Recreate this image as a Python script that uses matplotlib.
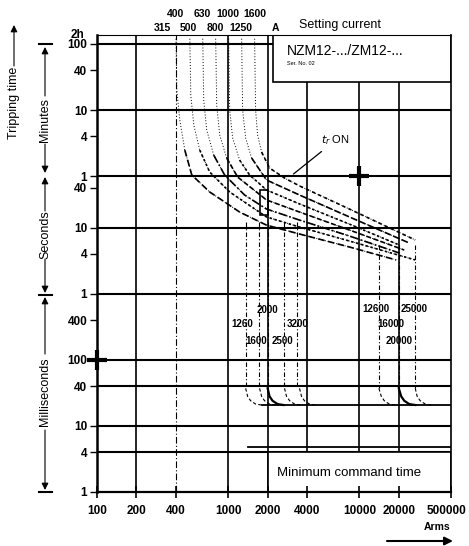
import matplotlib
matplotlib.use("Agg")
import matplotlib.pyplot as plt
from matplotlib.patches import Rectangle
from matplotlib.transforms import ScaledTranslation

# ---- axis values -------------------------------------------------------
x_ticks = [100, 200, 400, 1000, 2000, 4000, 10000, 20000, 50000]
x_tick_labels = ["100", "200", "400", "1000", "2000", "4000", "10000", "20000", "500000"]
y_ticks = [0.001, 0.004, 0.01, 0.04, 0.1, 0.4, 1, 4, 10, 40, 60, 240, 600, 2400, 6000]
y_tick_labels = ["1", "4", "10", "40", "100", "400", "1", "4", "10", "40",
                 "1", "4", "10", "40", "100"]
y_top = 8200          # top edge of the chart, labelled "2h"

grid_h = [6000, 600, 60, 10, 1, 0.1, 0.04, 0.01, 0.004]
grid_v = [200, 1000, 2000, 4000, 10000, 20000]
grid_v_dashdot = [400]

# setting current scale (top)
setting_row1 = [400, 630, 1000, 1600]
setting_row2 = [315, 500, 800, 1250]
setting_unit_current = 2300

# ---- long time delay curves (A, s) -------------------------------------
lt_currents = [
    [400, 406, 428, 467, 528, 723, 1223, 1960, 3500, 8400, 19100],
    [510, 519, 547, 607, 723, 1027, 1960, 3500, 8400, 26700],
    [640, 651, 686, 776, 940, 1335, 1960, 3500, 8400, 20150],
    [803, 818, 862, 974, 1181, 1960, 3500, 8400, 22000],
    [1009, 1027, 1082, 1223, 1457, 1960, 3500, 8400, 20150],
    [1267, 1289, 1359, 1509, 1960, 3500, 8400, 24000],
    [1591, 1619, 1676, 1798, 2068, 2690, 3500, 8400, 26700],
]
lt_times = [
    [7200, 1200, 424, 149, 62.5, 34.6, 17.2, 10.9, 8.0, 5.09, 3.24],
    [7200, 1000, 357, 149, 69.3, 34.6, 14.5, 10.2, 6.27, 3.24],
    [7200, 851, 300, 125, 62.5, 31.1, 19.1, 13.0, 7.46, 4.13],
    [7200, 716, 252, 113, 58.2, 26.2, 17.2, 9.20, 4.58],
    [7200, 601, 227, 105, 62.5, 37.1, 22.8, 11.3, 5.46],
    [7200, 601, 227, 113, 52.5, 31.1, 14.5, 5.85],
    [7200, 601, 252, 139, 79.7, 56.2, 42.7, 19.1, 6.49],
]
lt_dashes = [(0, (4, 2)), (0, (1.5, 1.5)), (0, (5, 1.5, 1, 1.5)), (0, (3, 1.5)),
             (0, (1.5, 1.5)), (0, (4, 1.5)), (0, (2, 2))]

# ---- short time delay pickups ------------------------------------------
st_pickups = [1360, 1730, 2000, 2680, 3350, 14100, 20000, 26700]
st_start_times = [12, 12, 12, 12, 12, 5.5, 5.5, 5.5]
st_bold = [False, False, True, False, False, False, True, False]
knee_times = [0.037, 0.028, 0.024, 0.0214, 0.0207]
knee_currents = [
    [1360, 1407, 1483, 1619, 1798],
    [1736, 1798, 1895, 2068, 2297],
    [2000, 2068, 2180, 2379, 2643],
    [2690, 2786, 2944, 3205, 3560],
    [3500, 3622, 3817, 4168, 4630],
    [14100, 14700, 15500, 16900, 18800],
    [20000, 20860, 22000, 24000, 26700],
    [26700, 27600, 29100, 31800, 35300],
]
sd_floor_time = 0.0207
sd_floor_currents = [1798, 50000]

st_label_texts = ["2000", "1260", "3200", "1600", "2500", "12600", "25000", "16000", "20000"]
st_label_currents = [1990, 1289, 3377, 1647, 2597, 13470, 26200, 17510, 20150]
st_label_times = [0.567, 0.348, 0.348, 0.192, 0.192, 0.587, 0.587, 0.348, 0.192]

# misc
rect_currents = [1740, 2000]
rect_times = [15.5, 37]
cmd_line_currents = [1407, 50000]
cmd_line_time = 0.0048
cross_currents = [10000, 100]
cross_times = [60, 0.1]
nzm_box_currents = [2180, 50000]
nzm_box_times = [1600, y_top]
cmd_box_currents = [2000, 50000]
cmd_box_times = [0.001, 0.004]

plt.rcParams["font.family"] = ["Liberation Sans", "DejaVu Sans"]
NARROW = ["Liberation Sans Narrow", "Liberation Sans", "DejaVu Sans"]

fig = plt.figure(figsize=(4.69, 5.46), dpi=100)
ax = fig.add_axes([97 / 469, 54 / 546, 354 / 469, 457 / 546])
ax.set_xscale("log")
ax.set_yscale("log")
ax.set_xlim(100, 50000)
ax.set_ylim(0.001, y_top)

ax.set_xticks(x_ticks, x_tick_labels, fontsize=8.5, fontweight="bold", family=NARROW)
ax.set_yticks(y_ticks, y_tick_labels, fontsize=8.5, fontweight="bold", family=NARROW)
ax.minorticks_off()
ax.tick_params(axis="x", direction="inout", length=9, width=1.2, pad=5)
ax.tick_params(axis="y", direction="out", length=5, width=1.0, pad=2)
ax.xaxis.set_zorder(6)
last = ax.get_xticklabels()[-1]
last.set_transform(last.get_transform() + ScaledTranslation(-3 / 72, 0, fig.dpi_scale_trans))
ax.text(-0.035, 1.0, "2h", transform=ax.transAxes, fontsize=8.5, fontweight="bold",
        family=NARROW, ha="right", va="center")

for side, lw in [("left", 1.8), ("bottom", 1.6), ("right", 1.2), ("top", 0.8)]:
    ax.spines[side].set_linewidth(lw)
    ax.spines[side].set_zorder(6)

# grid
for t in grid_h:
    ax.axhline(t, color="black", lw=1.5, zorder=1)
for c in grid_v:
    ax.axvline(c, color="black", lw=1.2, zorder=1)
for c in grid_v_dashdot:
    ax.axvline(c, color="black", lw=0.8, ls=(0, (6, 2, 1, 2)), zorder=1)

# long time curves: faint dotted near the asymptote, heavier further down
for cur, tim, ls in zip(lt_currents, lt_times, lt_dashes):
    ax.plot(cur, tim, color="black", lw=0.7, ls=(0, (1, 2)), zorder=3)
    ax.plot(cur[3:], tim[3:], color="black", lw=1.2, ls=ls, zorder=3)

ax.add_patch(Rectangle((rect_currents[0], rect_times[0]),
                       rect_currents[1] - rect_currents[0],
                       rect_times[1] - rect_times[0],
                       fill=False, edgecolor="black", lw=1.2, zorder=3))

# short time pickups + knees
for p, t0, bold, kc in zip(st_pickups, st_start_times, st_bold, knee_currents):
    ax.plot([p, p], [t0, knee_times[0]], color="black", lw=0.8,
            ls=(0, (4, 2, 1, 2)), zorder=3)
    if bold:
        ax.plot(kc, knee_times, color="black", lw=1.6, zorder=3)
    else:
        ax.plot(kc, knee_times, color="black", lw=0.8, ls=(0, (3, 2)), zorder=3)
ax.plot(sd_floor_currents, [sd_floor_time] * 2, color="black", lw=1.3, zorder=3)

for txt, c, t in zip(st_label_texts, st_label_currents, st_label_times):
    ax.text(c, t, txt, fontsize=7, fontweight="bold", family=NARROW,
            ha="center", va="center", zorder=5)

ax.plot(cmd_line_currents, [cmd_line_time] * 2, color="black", lw=1.3, zorder=3)

ax.plot(cross_currents, cross_times, ls="none", marker="+", ms=14, mew=3,
        color="black", zorder=7, clip_on=False)

# boxes
ax.add_patch(Rectangle((nzm_box_currents[0], nzm_box_times[0]),
                       nzm_box_currents[1] - nzm_box_currents[0],
                       nzm_box_times[1] - nzm_box_times[0],
                       facecolor="white", edgecolor="black", lw=1.2, zorder=4))
ax.text(2786, 4700, "NZM12-.../ZM12-...", fontsize=10, va="center", zorder=5)
ax.text(2786, 2990, "Ser. No. 02", fontsize=4, va="center", zorder=5)

ax.add_patch(Rectangle((cmd_box_currents[0], cmd_box_times[0]),
                       cmd_box_currents[1] - cmd_box_currents[0],
                       cmd_box_times[1] - cmd_box_times[0],
                       facecolor="white", edgecolor="black", lw=1.2, zorder=4))
ax.text(8400, 0.00194, "Minimum command time", fontsize=9.5,
        ha="center", va="center", zorder=5)

ax.annotate(r"$t_r$ ON", xy=(3148, 64.7), xytext=(5140, 211), fontsize=8,
            ha="left", va="center", zorder=5,
            arrowprops=dict(arrowstyle="-", color="black", lw=0.9,
                            shrinkA=2, shrinkB=0))

# setting current scale on top
trans = ax.get_xaxis_transform()
for c in setting_row1:
    ax.text(c, 1.047, str(c), transform=trans, fontsize=7.5, fontweight="bold",
            family=NARROW, ha="center", va="center")
for c in setting_row2:
    ax.text(c, 1.016, str(c), transform=trans, fontsize=7.5, fontweight="bold",
            family=NARROW, ha="center", va="center")
ax.text(setting_unit_current, 1.016, "A", transform=trans, fontsize=7.5,
        fontweight="bold", family=NARROW, ha="center", va="center")
ax.text(0.57, 1.022, "Setting current", transform=ax.transAxes, fontsize=9,
        ha="left", va="center")

# left-hand labels, in figure pixels
ov = fig.add_axes([0, 0, 1, 1])
ov.set_xlim(0, 469)
ov.set_ylim(546, 0)
ov.axis("off")

arrow = dict(arrowstyle="-|>", color="black", lw=0.8, mutation_scale=10,
             shrinkA=0, shrinkB=0)
ov.text(14, 103, "Tripping time", rotation=90, fontsize=9, ha="center", va="center")
ov.annotate("", xy=(14, 25), xytext=(14, 66), arrowprops=arrow)

for top, bottom, label, mid, half in [(47, 173, "Minutes", 120, 24),
                                      (177, 293, "Seconds", 235, 24),
                                      (297, 490, "Milliseconds", 392, 38)]:
    ov.text(45, mid, label, rotation=90, fontsize=9, ha="center", va="center")
    ov.annotate("", xy=(45, top), xytext=(45, mid - half), arrowprops=arrow)
    ov.annotate("", xy=(45, bottom), xytext=(45, mid + half), arrowprops=arrow)
for y in [44, 295, 492]:
    ov.plot([39, 52], [y, y], color="black", lw=1.5)

ov.text(437, 527, "Arms", fontsize=7.5, fontweight="bold", family=NARROW,
        ha="center", va="center")
ov.annotate("", xy=(453, 541), xytext=(387, 541),
            arrowprops=dict(arrowstyle="-|>", color="black", lw=1.5,
                            mutation_scale=12, shrinkA=0, shrinkB=0))

fig.savefig("out.png", dpi=100)
